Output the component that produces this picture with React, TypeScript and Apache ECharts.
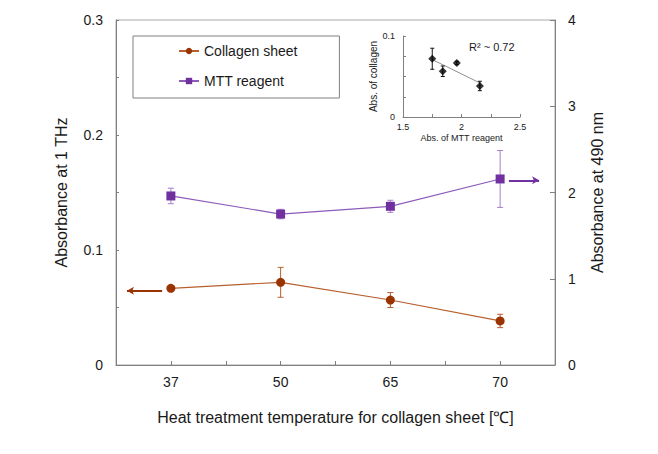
import React, { useEffect, useRef } from "react";
import * as echarts from "echarts";

const categories = ["37", "50", "65", "70"];
const collagen = [0.0667, 0.0719, 0.0565, 0.0383];
const collagenErr = [0.002, 0.013, 0.0065, 0.0058];
const mtt = [1.96, 1.75, 1.84, 2.157];
const mttErr = [0.09, 0.055, 0.07, 0.33];
const collagenArrow = [[0.42, 0.0645], [0.1, 0.0645]];
const mttArrow = [[3.58, 2.141], [3.855, 2.141]];
const r2Text = "R\u00b2 ~ 0.72";

const BROWN = "#9a3300";
const BROWN_LINE = "#b6602e";
const PURPLE = "#7030a0";
const PURPLE_LINE = "#8d5bbb";
const PURPLE_ERR = "#a67fcb";
const AXIS = "#808080";
const TEXT = "#1a1a1a";
const FONT = "'Liberation Sans', Arial, sans-serif";

function errRender(color: string, cap: number) {
  return (params: any, api: any) => {
    const x = api.value(0);
    const y = api.value(1);
    const e = api.value(2);
    const top = api.coord([x, y + e]);
    const bot = api.coord([x, y - e]);
    const style = { stroke: color, lineWidth: 1 };
    return {
      type: "group",
      children: [
        { type: "line", shape: { x1: top[0], y1: top[1], x2: bot[0], y2: bot[1] }, style },
        { type: "line", shape: { x1: top[0] - cap, y1: top[1], x2: top[0] + cap, y2: top[1] }, style },
        { type: "line", shape: { x1: bot[0] - cap, y1: bot[1], x2: bot[0] + cap, y2: bot[1] }, style },
      ],
    };
  };
}

export default function App() {
  const ref = useRef<HTMLDivElement>(null);
  useEffect(() => {
    if (!ref.current) return;
    const chart = echarts.init(ref.current, null, { renderer: "svg" });

    const mainColl = categories.map((_, i) => [i + 0.5, collagen[i]]);
    const mainMtt = categories.map((_, i) => [i + 0.5, mtt[i]]);
    const errColl = categories.map((_, i) => [i + 0.5, collagen[i], collagenErr[i]]);
    const errMtt = categories.map((_, i) => [i + 0.5, mtt[i], mttErr[i]]);
    const insetPts = categories.map((_, i) => [mtt[i], collagen[i]]);
    const insetErr = categories.map((_, i) => [mtt[i], collagen[i], collagenErr[i]]);

    // least squares fit for inset trend line
    const n = mtt.length;
    const mx = mtt.reduce((a, b) => a + b, 0) / n;
    const my = collagen.reduce((a, b) => a + b, 0) / n;
    let sxy = 0, sxx = 0;
    for (let i = 0; i < n; i++) {
      sxy += (mtt[i] - mx) * (collagen[i] - my);
      sxx += (mtt[i] - mx) ** 2;
    }
    const slope = sxy / sxx;
    const xMin = Math.min(...mtt);
    const xMax = Math.max(...mtt);
    const trend = [
      [xMin, my + slope * (xMin - mx)],
      [xMax, my + slope * (xMax - mx)],
    ];

    const option: any = {
      animation: false,
      backgroundColor: "#ffffff",
      textStyle: { fontFamily: FONT, color: TEXT },
      legend: {
        left: 133,
        top: 36,
        orient: "vertical",
        data: ["Collagen sheet", "MTT reagent"],
        itemWidth: 20,
        itemHeight: 8,
        itemGap: 16,
        padding: [8, 42, 10, 45],
        borderColor: AXIS,
        borderWidth: 1,
        selectedMode: false,
        textStyle: { fontSize: 14, color: TEXT, fontFamily: FONT },
      },
      grid: [
        { left: 116, right: 103, top: 20, bottom: 89, show: true, borderColor: "#a8a8a8", borderWidth: 1 },
        { left: 403, right: 138, top: 36, bottom: 337 },
      ],
      xAxis: [
        {
          type: "value",
          gridIndex: 0,
          min: 0,
          max: 4,
          interval: 0.5,
          name: "Heat treatment temperature for collagen sheet [\u2103]",
          nameLocation: "middle",
          nameGap: 44,
          nameTextStyle: { fontSize: 16, color: TEXT, fontFamily: FONT },
          axisLine: { lineStyle: { color: AXIS } },
          axisTick: { inside: true, length: 4, lineStyle: { color: AXIS } },
          splitLine: { show: false },
          axisLabel: {
            fontSize: 14,
            color: TEXT,
            margin: 10,
            formatter: (v: number) => {
              const i = Math.round(v - 0.5);
              if (Math.abs(v - 0.5 - i) < 1e-6 && i >= 0 && i < categories.length) return categories[i];
              return "";
            },
          },
        },
        {
          type: "value",
          gridIndex: 1,
          min: 1.5,
          max: 2.5,
          interval: 0.25,
          name: "Abs. of MTT reagent",
          nameLocation: "middle",
          nameGap: 16,
          nameTextStyle: { fontSize: 9, color: TEXT, fontFamily: FONT },
          axisLine: { lineStyle: { color: AXIS } },
          axisTick: { inside: true, length: 3, lineStyle: { color: AXIS } },
          splitLine: { show: false },
          axisLabel: {
            fontSize: 9,
            color: TEXT,
            margin: 5,
            formatter: (v: number) => (Math.abs(v * 2 - Math.round(v * 2)) < 1e-6 ? String(v) : ""),
          },
        },
      ],
      yAxis: [
        {
          type: "value",
          gridIndex: 0,
          min: 0,
          max: 0.3,
          interval: 0.1,
          name: "Absorbance at 1 THz",
          nameLocation: "middle",
          nameGap: 47,
          nameTextStyle: { fontSize: 16, color: TEXT, fontFamily: FONT },
          axisLine: { show: true, lineStyle: { color: AXIS } },
          axisTick: { show: true, inside: true, length: 3, lineStyle: { color: AXIS } },
          minorTick: { show: true, splitNumber: 2, length: 3, lineStyle: { color: AXIS } },
          splitLine: { show: false },
          axisLabel: {
            fontSize: 14,
            color: TEXT,
            margin: 13,
            formatter: (v: number) => (v === 0 ? "0" : v.toFixed(1)),
          },
        },
        {
          type: "value",
          gridIndex: 0,
          position: "right",
          min: 0,
          max: 4,
          interval: 1,
          name: "Absorbance at 490 nm",
          nameLocation: "middle",
          nameGap: 34,
          nameRotate: 90,
          nameTextStyle: { fontSize: 16, color: TEXT, fontFamily: FONT },
          axisLine: { show: true, lineStyle: { color: AXIS } },
          axisTick: { show: true, inside: true, length: 5, lineStyle: { color: AXIS } },
          splitLine: { show: false },
          axisLabel: { fontSize: 14, color: TEXT, margin: 13 },
        },
        {
          type: "value",
          gridIndex: 1,
          min: 0,
          max: 0.1,
          interval: 0.025,
          name: "Abs. of collagen",
          nameLocation: "middle",
          nameGap: 21,
          nameTextStyle: { fontSize: 10, color: TEXT, fontFamily: FONT },
          axisLine: { show: true, lineStyle: { color: AXIS } },
          axisTick: { show: true, inside: true, length: 3, lineStyle: { color: AXIS } },
          splitLine: { show: false },
          axisLabel: {
            fontSize: 9,
            color: TEXT,
            margin: 8,
            formatter: (v: number) => (v === 0 ? "0" : Math.abs(v - 0.1) < 1e-9 ? "0.1" : ""),
          },
        },
      ],
      graphic: [
        {
          type: "text",
          left: 469,
          top: 41,
          style: { text: r2Text, fontSize: 11, fill: TEXT, fontFamily: FONT },
        },
      ],
      series: [
        {
          type: "custom",
          name: "errColl",
          xAxisIndex: 0,
          yAxisIndex: 0,
          renderItem: errRender(BROWN_LINE, 3),
          data: errColl,
          z: 1,
          silent: true,
        },
        {
          type: "custom",
          name: "errMtt",
          xAxisIndex: 0,
          yAxisIndex: 1,
          renderItem: errRender(PURPLE_ERR, 3),
          data: errMtt,
          z: 1,
          silent: true,
        },
        {
          type: "line",
          name: "Collagen sheet",
          xAxisIndex: 0,
          yAxisIndex: 0,
          data: mainColl,
          symbol: "circle",
          symbolSize: 9,
          itemStyle: { color: BROWN },
          lineStyle: { color: BROWN_LINE, width: 1.2 },
          z: 3,
          markLine: {
            silent: true,
            symbol: ["none", "arrow"],
            symbolSize: [6, 7],
            label: { show: false },
            lineStyle: { type: "solid", width: 2, color: BROWN },
            data: [[{ coord: collagenArrow[0] }, { coord: collagenArrow[1] }]],
          },
        },
        {
          type: "line",
          name: "MTT reagent",
          xAxisIndex: 0,
          yAxisIndex: 1,
          data: mainMtt,
          symbol: "rect",
          symbolSize: 9,
          itemStyle: { color: PURPLE },
          lineStyle: { color: PURPLE_LINE, width: 1.2 },
          z: 3,
          markLine: {
            silent: true,
            symbol: ["none", "arrow"],
            symbolSize: [6, 7],
            label: { show: false },
            lineStyle: { type: "solid", width: 2, color: PURPLE },
            data: [[{ coord: mttArrow[0] }, { coord: mttArrow[1] }]],
          },
        },
        {
          type: "line",
          name: "trend",
          xAxisIndex: 1,
          yAxisIndex: 2,
          data: trend,
          symbol: "none",
          lineStyle: { color: "#909090", width: 1 },
          silent: true,
          z: 1,
        },
        {
          type: "custom",
          name: "errInset",
          xAxisIndex: 1,
          yAxisIndex: 2,
          renderItem: errRender("#111111", 2),
          data: insetErr,
          z: 2,
          silent: true,
        },
        {
          type: "scatter",
          name: "inset",
          xAxisIndex: 1,
          yAxisIndex: 2,
          data: insetPts,
          symbol: "diamond",
          symbolSize: 8,
          itemStyle: { color: "#000000" },
          z: 3,
          silent: true,
        },
      ],
    };
    chart.setOption(option);
    return () => chart.dispose();
  }, []);
  return (
    <div
      ref={ref}
      style={{ position: "fixed", left: 0, top: 0, width: 658, height: 454, background: "#fff" }}
    />
  );
}
